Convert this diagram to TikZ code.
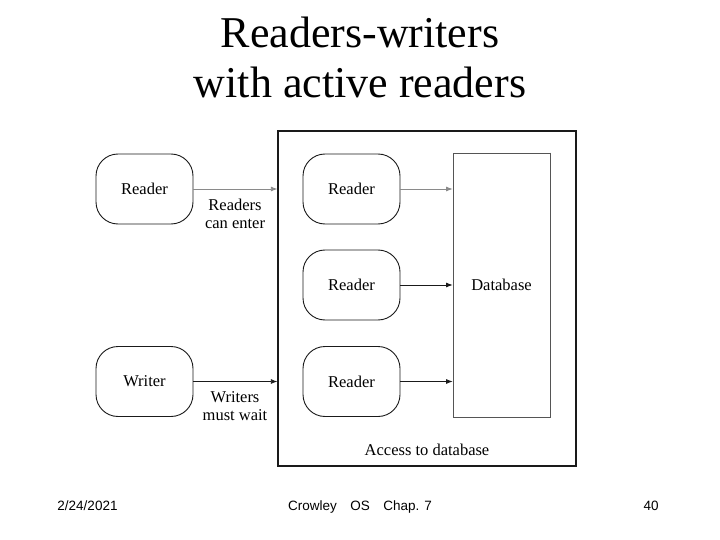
\documentclass[tikz,border=0pt]{standalone}
\usepackage{fontspec}
\setmainfont{Liberation Serif}
\newfontfamily\footfont{Liberation Sans}
\usetikzlibrary{arrows.meta, positioning, calc}
\definecolor{inkline}{HTML}{1A1A1A}
\definecolor{inkgrey}{HTML}{8A8A8A}
\definecolor{inkdb}{HTML}{555555}
\newcommand{\procbox}[3]{%
  \node[draw=inkline, line width=0.9pt, rounded corners=22pt, fill=white,
        minimum width=97pt, minimum height=70pt, align=center,
        font=\fontsize{16.5}{18}\selectfont] (#1) at (#2) {#3};}

\begin{document}
\begin{tikzpicture}[x=1pt, y=-1pt,
    flow/.style={-{Latex[length=6.5pt, width=5pt]}, line width=0.8pt},
    note/.style={align=center, font=\fontsize{16.5}{18}\selectfont, inner sep=0pt},
    foot/.style={font=\footfont\fontsize{13.5}{15}\selectfont, inner sep=0pt, anchor=base}]
      \useasboundingbox (0,0) rectangle (720,540);
      % title
      \node[align=center, font=\fontsize{44}{50}\selectfont] (title) at (360,57)
        {Readers-writers\\with active readers};
      % access region and database
      \node[draw=inkline, line width=1.3pt, minimum width=298pt, minimum height=335pt,
            inner sep=0pt] (access) at (427,298.5) {};
      \node[draw=inkdb, line width=0.8pt, minimum width=97pt, minimum height=264pt,
            inner sep=0pt, font=\fontsize{16.5}{18}\selectfont] (db) at (501.5,285) {Database};
      \draw[inkdb, line width=1.8pt] (db.north east) -- (db.south east);
      \node[note] (acclabel) at (427,450) {Access to database};
      % processes
      \procbox{rwait}{144.5,189}{Reader}
      \procbox{wwait}{144.5,381.5}{Writer}
      \procbox{ra}{351.5,189}{Reader}
      \procbox{rb}{351.5,285}{Reader}
      \procbox{rc}{351.5,381.5}{Reader}
      % connectors
      \draw[flow, inkgrey] (rwait.east) -- (rwait.east -| access.west);
      \draw[flow, inkline] (wwait.east) -- (wwait.east -| access.west);
      \draw[flow, inkgrey] (ra.east) -- (ra.east -| db.west);
      \draw[flow, inkline] (rb.east) -- (rb.east -| db.west);
      \draw[flow, inkline] (rc.east) -- (rc.east -| db.west);
      \node[note] (canenter) at (235,214) {Readers\\can enter};
      \node[note] (mustwait) at (235,406) {Writers\\must wait};
      % footer
      \node[foot] (date) at (87.5,510) {2/24/2021};
      \node[foot] (course) at (360,510) {Crowley\quad OS\quad Chap. 7};
      \node[foot] (page) at (651,510) {40};
    \end{tikzpicture}
\end{document}
